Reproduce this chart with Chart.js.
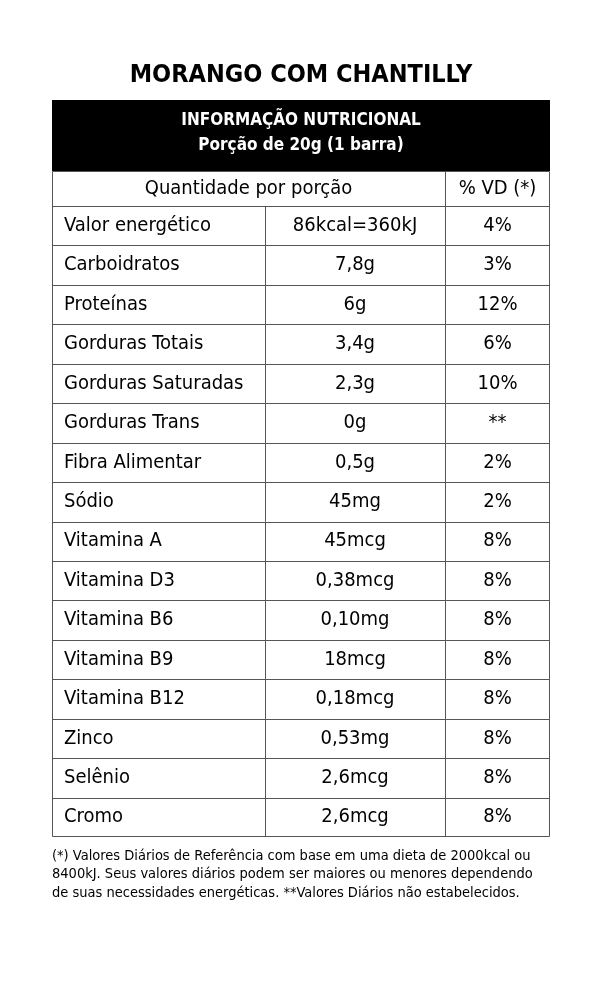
<!DOCTYPE html>
<html><head><meta charset="utf-8">
<script src="https://cdn.jsdelivr.net/npm/chart.js@4"></script>
<style>body{margin:0;background:#fff}canvas{display:block}</style>
</head><body>
<canvas id="c" width="601" height="982"></canvas>
<script>
const title = 'MORANGO COM CHANTILLY';
const headerLines = ['INFORMAÇÃO NUTRICIONAL', 'Porção de 20g (1 barra)'];
const colHeaders = ['Quantidade por porção', '% VD (*)'];
const nutrients = ['Valor energético', 'Carboidratos', 'Proteínas', 'Gorduras Totais', 'Gorduras Saturadas',
  'Gorduras Trans', 'Fibra Alimentar', 'Sódio', 'Vitamina A', 'Vitamina D3', 'Vitamina B6', 'Vitamina B9',
  'Vitamina B12', 'Zinco', 'Selênio', 'Cromo'];
const amounts = ['86kcal=360kJ', '7,8g', '6g', '3,4g', '2,3g', '0g', '0,5g', '45mg', '45mcg', '0,38mcg',
  '0,10mg', '18mcg', '0,18mcg', '0,53mg', '2,6mcg', '2,6mcg'];
const dailyValues = ['4%', '3%', '12%', '6%', '10%', '**', '2%', '2%', '8%', '8%', '8%', '8%', '8%', '8%', '8%', '8%'];
const footnote = ['(*) Valores Diários de Referência com base em uma dieta de 2000kcal ou',
  '8400kJ. Seus valores diários podem ser maiores ou menores dependendo',
  'de suas necessidades energéticas. **Valores Diários não estabelecidos.'];

const FONT = '"Liberation Sans Narrow", "DejaVu Sans Condensed", sans-serif';
const colEdges = [0, 213, 393, 498]; // x-scale units

const tablePlugin = {
  id: 'table',
  afterDraw(chart) {
    const ctx = chart.ctx, xs = chart.scales.x, ys = chart.scales.y;
    const left = xs.getPixelForValue(colEdges[0]), right = xs.getPixelForValue(colEdges[3]);
    const c1 = xs.getPixelForValue(colEdges[1]), c2 = xs.getPixelForValue(colEdges[2]);
    const step = ys.getPixelForValue(1) - ys.getPixelForValue(0);
    const top = ys.getPixelForValue(0) - step / 2;
    const bottom = ys.getPixelForValue(nutrients.length - 1) + step / 2;
    ctx.save();
    ctx.fillStyle = '#000';
    ctx.textBaseline = 'middle';
    ctx.textAlign = 'center';
    ctx.font = 'bold 25px ' + FONT;
    ctx.fillText(title, (left + right) / 2, 75);
    // black header
    const hTop = 100, hBot = top - 35;
    ctx.fillRect(left, hTop, right - left, hBot - hTop);
    ctx.fillStyle = '#fff';
    ctx.font = 'bold 17px ' + FONT;
    ctx.fillText(headerLines[0], (left + right) / 2, 121);
    ctx.fillText(headerLines[1], (left + right) / 2, 146);
    // column header row
    ctx.fillStyle = '#000';
    ctx.font = '20px ' + FONT;
    ctx.fillText(colHeaders[0], (left + c2) / 2, (hBot + top) / 2);
    ctx.fillText(colHeaders[1], (c2 + right) / 2, (hBot + top) / 2);
    // lines
    ctx.strokeStyle = '#555';
    ctx.lineWidth = 1;
    ctx.beginPath();
    ctx.rect(left + 0.5, hBot + 0.5, right - left - 1, bottom - hBot - 1);
    ctx.moveTo(c2 + 0.5, hBot); ctx.lineTo(c2 + 0.5, bottom);
    ctx.moveTo(c1 + 0.5, top); ctx.lineTo(c1 + 0.5, bottom);
    for (let i = 0; i < nutrients.length; i++) {
      const y = Math.round(ys.getPixelForValue(i) - step / 2) + 0.5;
      ctx.moveTo(left, y); ctx.lineTo(right, y);
    }
    ctx.stroke();
    // cells
    nutrients.forEach((n, i) => {
      const y = ys.getPixelForValue(i);
      ctx.textAlign = 'left';
      ctx.fillText(n, left + 12, y);
      ctx.textAlign = 'center';
      ctx.fillText(amounts[i], (c1 + c2) / 2, y);
      ctx.fillText(dailyValues[i], (c2 + right) / 2, y);
    });
    // footnote
    ctx.textAlign = 'left';
    ctx.font = '14.5px ' + FONT;
    footnote.forEach((l, i) => ctx.fillText(l, left, bottom + 19 + i * 18.5));
    ctx.restore();
  }
};

new Chart(document.getElementById('c'), {
  type: 'bar',
  data: { labels: nutrients, datasets: [{ data: nutrients.map(() => null) }] },
  options: {
    responsive: false,
    animation: false,
    indexAxis: 'y',
    layout: { padding: { left: 52, right: 51, top: 206, bottom: 145 } },
    scales: {
      x: { type: 'linear', min: colEdges[0], max: colEdges[3], display: false },
      y: { type: 'category', offset: true, display: false }
    },
    plugins: { legend: { display: false }, tooltip: { enabled: false } }
  },
  plugins: [tablePlugin]
});
</script>
</body></html>
